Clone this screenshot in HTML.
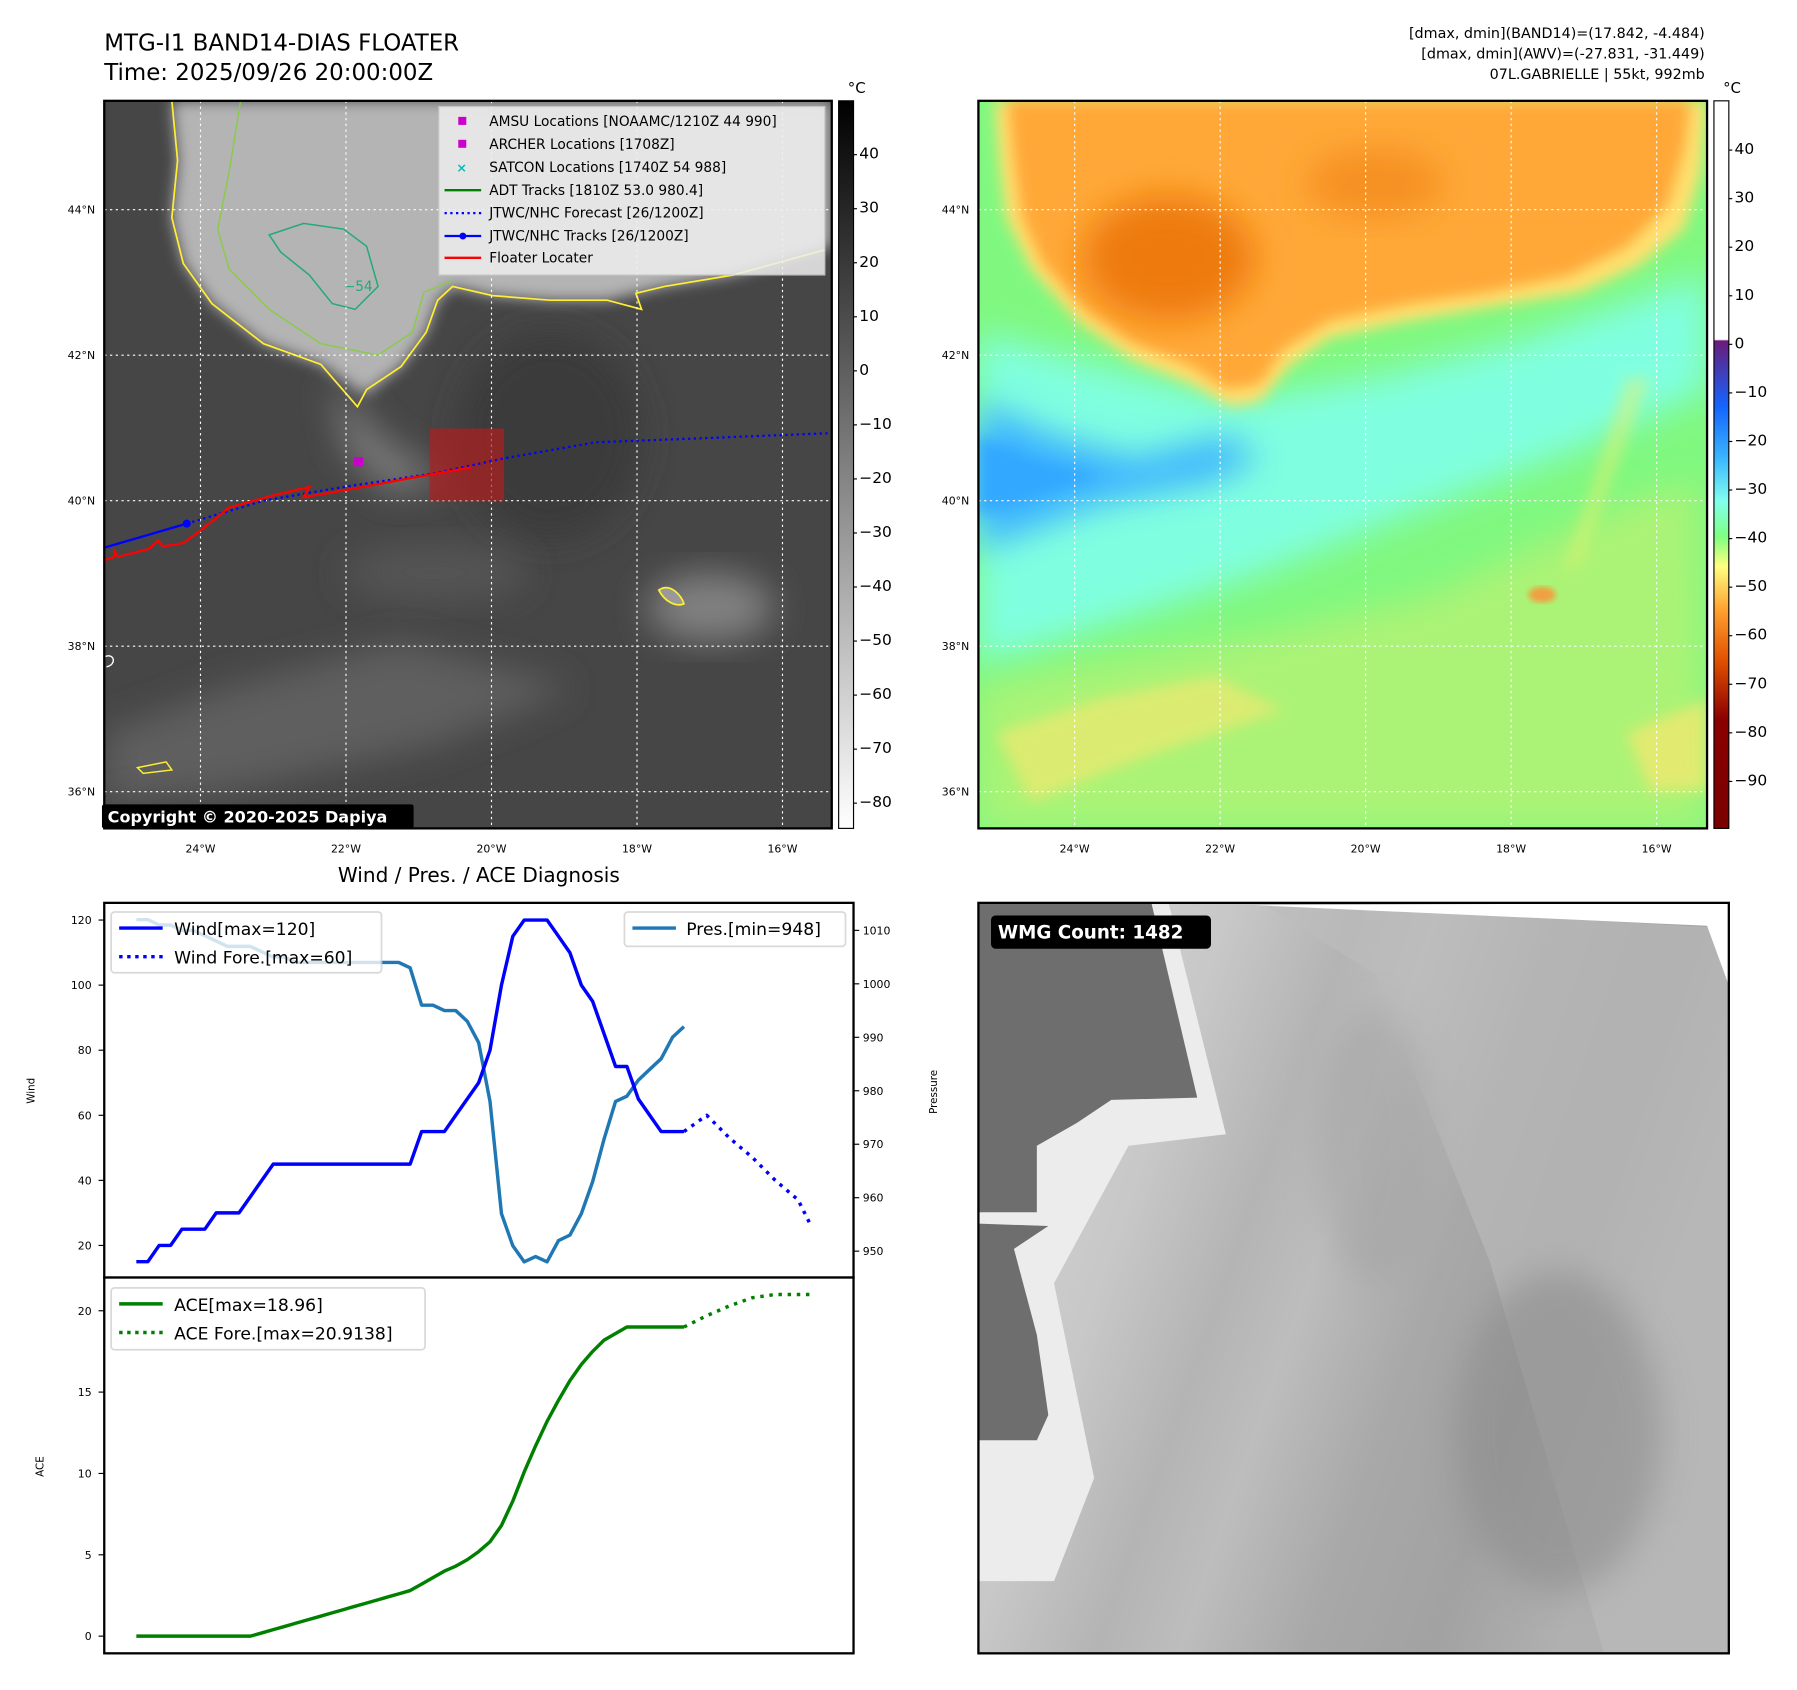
<!DOCTYPE html>
<html><head><meta charset="utf-8"><style>
html,body{margin:0;padding:0;background:#fff;}
svg{display:block;font-family:"DejaVu Sans","Liberation Sans",sans-serif;}
</style></head><body>
<svg id="fig" width="1797" height="1690" viewBox="0 0 1568.5 1475" preserveAspectRatio="none" xmlns="http://www.w3.org/2000/svg">
<defs>
<filter id="b6" x="-20%" y="-20%" width="140%" height="140%"><feGaussianBlur stdDeviation="6"/></filter>
<filter id="b15" x="-30%" y="-30%" width="160%" height="160%"><feGaussianBlur stdDeviation="15"/></filter>
<filter id="b3"><feGaussianBlur stdDeviation="2.5"/></filter>
<clipPath id="c1"><rect x="91" y="88" width="635" height="635"/></clipPath>
<clipPath id="c2"><rect x="854" y="88" width="636" height="635"/></clipPath>
<clipPath id="c3"><rect x="854" y="788" width="655" height="655"/></clipPath>
<linearGradient id="gbar" x1="0" y1="0" x2="0" y2="1"><stop offset="0" stop-color="#000"/><stop offset="1" stop-color="#fff"/></linearGradient>
<linearGradient id="cbar" x1="0" y1="0" x2="0" y2="1">
<stop offset="0" stop-color="#fff"/><stop offset="0.328" stop-color="#fff"/><stop offset="0.33" stop-color="#6a1b7a"/>
<stop offset="0.42" stop-color="#1464ff"/><stop offset="0.49" stop-color="#3ab4ff"/><stop offset="0.55" stop-color="#80ffee"/>
<stop offset="0.6" stop-color="#80ff80"/><stop offset="0.64" stop-color="#ffff80"/><stop offset="0.7" stop-color="#ffa030"/>
<stop offset="0.77" stop-color="#e05000"/><stop offset="0.85" stop-color="#8b0000"/><stop offset="1" stop-color="#7a0000"/></linearGradient>
<linearGradient id="wmg" x1="0" y1="0" x2="1" y2="0.35">
<stop offset="0" stop-color="#d6d6d6"/><stop offset="0.3" stop-color="#c8c8c8"/><stop offset="0.45" stop-color="#b4b4b4"/>
<stop offset="0.55" stop-color="#bdbdbd"/><stop offset="0.7" stop-color="#a8a8a8"/><stop offset="0.85" stop-color="#a2a2a2"/><stop offset="1" stop-color="#b0b0b0"/></linearGradient>
</defs>

<!-- titles -->
<text x="91" y="44" font-size="20">MTG-I1 BAND14-DIAS FLOATER</text>
<text x="91" y="70" font-size="20">Time: 2025/09/26 20:00:00Z</text>
<g font-size="12.5" text-anchor="end">
<text x="1488" y="33">[dmax, dmin](BAND14)=(17.842, -4.484)</text>
<text x="1488" y="51">[dmax, dmin](AWV)=(-27.831, -31.449)</text>
<text x="1488" y="69">07L.GABRIELLE | 55kt, 992mb</text>
</g>

<!-- MAP 1 -->
<g clip-path="url(#c1)">
<rect x="91" y="88" width="635" height="635" fill="#464646"/>
<ellipse cx="480" cy="380" rx="80" ry="90" fill="#3a3a3a" filter="url(#b15)"/>
<path d="M150,88 L155,140 L150,190 L160,230 L185,265 L230,300 L280,318 L318,345 L350,320 L372,290 L382,262 L395,250 L430,258 L480,262 L530,262 L580,250 L640,240 L726,215 L726,88 Z" fill="#b4b4b4" filter="url(#b6)"/>
<path d="M290,330 L330,380 L390,420 L340,430 L300,390 Z" fill="#7a7a7a" filter="url(#b15)"/>
<ellipse cx="620" cy="530" rx="55" ry="30" fill="#808080" filter="url(#b15)"/>
<ellipse cx="380" cy="500" rx="80" ry="25" fill="#555" filter="url(#b15)"/>
<path d="M91,640 L200,600 L350,560 L500,600 L380,650 L200,690 L91,700 Z" fill="#5e5e5e" filter="url(#b15)"/>
<path d="M150,88 L155,140 L150,190 L160,230 L185,265 L230,300 L280,318 L312,355 L320,340 L350,320 L372,290 L382,262 L395,250 L430,258 L480,262 L530,262 L560,270 L555,256 L580,250 L640,240 L720,218" fill="none" stroke="#ffee33" stroke-width="1.5"/>
<path d="M210,88 L200,150 L190,200 L200,235 L235,270 L280,300 L330,310 L360,290 L370,255 L395,245" fill="none" stroke="#88cc44" stroke-width="1.2"/>
<path d="M235,205 L265,195 L300,200 L320,215 L330,250 L310,270 L290,265 L270,240 L245,220 Z" fill="none" stroke="#22aa77" stroke-width="1.3"/>
<text x="300" y="254" font-size="12" fill="#22aa77">−54</text>
<path d="M575,515 C585,508 595,520 597,527 C590,530 580,525 575,515 Z" fill="#999" stroke="#ffee33" stroke-width="1.5"/>
<path d="M120,670 L145,665 L150,672 L125,675 Z" fill="none" stroke="#ffee33" stroke-width="1.3"/>
<path d="M92,573 C100,570 102,580 93,582" fill="none" stroke="#fff" stroke-width="1.2"/>
<g stroke="#fff" stroke-width="1" stroke-dasharray="2,3">
<line x1="175" y1="88" x2="175" y2="723"/><line x1="302" y1="88" x2="302" y2="723"/><line x1="429" y1="88" x2="429" y2="723"/><line x1="556" y1="88" x2="556" y2="723"/><line x1="683" y1="88" x2="683" y2="723"/>
<line x1="91" y1="183" x2="726" y2="183"/><line x1="91" y1="310" x2="726" y2="310"/><line x1="91" y1="437" x2="726" y2="437"/><line x1="91" y1="564" x2="726" y2="564"/><line x1="91" y1="691" x2="726" y2="691"/>
</g>
<rect x="375" y="374" width="65" height="63" fill="#b01e1e" opacity="0.7"/>
<polyline points="163,457 230,437 300,425 380,413 440,400 520,386 600,383 726,378" fill="none" stroke="#0000ff" stroke-width="2" stroke-dasharray="2,3"/>
<polyline points="91,478 163,457" fill="none" stroke="#0000ff" stroke-width="2"/>
<circle cx="163" cy="457" r="3.5" fill="#0000ff"/>
<polyline points="91,489 100,486 100,481 103,486 130,479 138,472 142,477 160,474 175,463 200,443 240,432 270,425 265,434 300,428 360,417 411,408" fill="none" stroke="#ff0000" stroke-width="2"/>
<rect x="309" y="399" width="8" height="8" fill="#cc00cc"/>
</g>
<rect x="91" y="88" width="635" height="635" fill="none" stroke="#000" stroke-width="2"/>
<g>
<rect x="383" y="93" width="337" height="147" fill="#eee" opacity="0.85" stroke="#ccc"/>
<rect x="400" y="102" width="7" height="7" fill="#cc00cc"/>
<rect x="400" y="122" width="7" height="7" fill="#cc00cc"/>
<text x="403" y="150" font-size="11" fill="#00bbbb" text-anchor="middle" font-weight="bold">×</text>
<line x1="388" y1="166" x2="420" y2="166" stroke="#008000" stroke-width="2"/>
<line x1="388" y1="186" x2="420" y2="186" stroke="#0000ff" stroke-width="2" stroke-dasharray="2,3"/>
<line x1="388" y1="206" x2="420" y2="206" stroke="#0000ff" stroke-width="2"/><circle cx="404" cy="206" r="3" fill="#0000ff"/>
<line x1="388" y1="225" x2="420" y2="225" stroke="#ff0000" stroke-width="2"/>
<g font-size="12">
<text x="427" y="110">AMSU Locations [NOAAMC/1210Z 44 990]</text>
<text x="427" y="130">ARCHER Locations [1708Z]</text>
<text x="427" y="150">SATCON Locations [1740Z 54 988]</text>
<text x="427" y="170">ADT Tracks [1810Z 53.0 980.4]</text>
<text x="427" y="190">JTWC/NHC Forecast [26/1200Z]</text>
<text x="427" y="210">JTWC/NHC Tracks [26/1200Z]</text>
<text x="427" y="229">Floater Locater</text>
</g></g>
<rect x="89" y="702" width="272" height="21" rx="2" fill="#000"/>
<text x="94" y="718" font-size="14" font-weight="bold" fill="#fff">Copyright © 2020-2025 Dapiya</text>
<rect x="732" y="88" width="13" height="635" fill="url(#gbar)" stroke="#000" stroke-width="1"/>
<text x="740" y="81" font-size="13">°C</text>
<g id="cb1ticks" font-size="13.5"></g>
<g id="m1labels" font-size="9.5"></g>

<!-- MAP 2 -->
<g clip-path="url(#c2)">
<rect x="854" y="88" width="636" height="635" fill="#80f880"/>
<path d="M854,290 L960,320 L1080,350 L1200,330 L1320,300 L1490,240 L1490,340 L1380,390 L1250,440 L1100,500 L980,540 L854,580 Z" fill="#80ffe0" filter="url(#b15)"/>
<path d="M854,350 L920,380 L990,400 L1070,380 L1100,400 L1060,420 L960,440 L854,480 Z" fill="#3cb4ff" filter="url(#b15)"/>
<path d="M854,380 L900,400 L960,415 L854,450 Z" fill="#30a8ff" filter="url(#b6)"/>
<path d="M854,600 L950,580 L1100,555 L1250,520 L1420,440 L1480,420 L1490,723 L854,723 Z" fill="#c8f070" filter="url(#b15)" opacity="0.6"/>
<path d="M870,640 L960,610 L1060,590 L1120,620 L1000,660 L900,700 Z" fill="#f0e870" filter="url(#b6)" opacity="0.7"/>
<path d="M1420,330 L1440,330 L1380,490 L1365,500 Z" fill="#e8f070" filter="url(#b6)" opacity="0.5"/>
<path d="M1420,640 L1490,610 L1490,690 L1440,690 Z" fill="#f0e870" filter="url(#b6)" opacity="0.8"/>
<path d="M868,88 L872,140 L878,190 L900,235 L940,280 L990,315 L1040,335 L1075,355 L1100,350 L1125,320 L1160,295 L1230,280 L1300,268 L1380,255 L1430,232 L1470,200 L1485,150 L1490,88 Z" fill="#ffe070" filter="url(#b6)"/>
<path d="M880,88 L885,140 L892,190 L910,230 L945,268 L990,300 L1040,320 L1070,340 L1100,335 L1120,305 L1160,280 L1230,265 L1300,255 L1370,240 L1420,215 L1455,180 L1470,130 L1475,88 Z" fill="#ffa838" filter="url(#b6)"/>
<ellipse cx="1020" cy="225" rx="75" ry="55" fill="#ee7a10" filter="url(#b15)"/>
<ellipse cx="1200" cy="160" rx="60" ry="30" fill="#f59020" filter="url(#b15)"/>
<ellipse cx="1346" cy="519" rx="12" ry="7" fill="#f0a040" filter="url(#b3)"/>
<g stroke="#fff" stroke-width="1" stroke-dasharray="2,3">
<line x1="938" y1="88" x2="938" y2="723"/><line x1="1065" y1="88" x2="1065" y2="723"/><line x1="1192" y1="88" x2="1192" y2="723"/><line x1="1319" y1="88" x2="1319" y2="723"/><line x1="1446" y1="88" x2="1446" y2="723"/>
<line x1="854" y1="183" x2="1490" y2="183"/><line x1="854" y1="310" x2="1490" y2="310"/><line x1="854" y1="437" x2="1490" y2="437"/><line x1="854" y1="564" x2="1490" y2="564"/><line x1="854" y1="691" x2="1490" y2="691"/>
</g>
</g>
<rect x="854" y="88" width="636" height="635" fill="none" stroke="#000" stroke-width="2"/>
<rect x="1496" y="88" width="13" height="635" fill="url(#cbar)" stroke="#000" stroke-width="1"/>
<text x="1504" y="81" font-size="13">°C</text>
<g id="cb2ticks" font-size="13.5"></g>
<g id="m2labels" font-size="9.5"></g>

<!-- WIND / PRES / ACE -->
<text x="418" y="770" font-size="17.5" text-anchor="middle">Wind / Pres. / ACE Diagnosis</text>
<rect x="91" y="788" width="654" height="327" fill="#fff" stroke="#000" stroke-width="2"/>
<rect x="91" y="1115" width="654" height="328" fill="#fff" stroke="#000" stroke-width="2"/>
<g id="chartg"></g>
<text transform="translate(30,952) rotate(-90)" font-size="9" text-anchor="middle">Wind</text>
<text transform="translate(818,953) rotate(-90)" font-size="9" text-anchor="middle">Pressure</text>
<text transform="translate(38,1280) rotate(-90)" font-size="9" text-anchor="middle">ACE</text>
<g>
<rect x="97" y="796" width="236" height="53" rx="3" fill="#fff" opacity="0.8" stroke="#d0d0d0" stroke-width="1.5"/>
<line x1="104" y1="810" x2="142" y2="810" stroke="#0000ff" stroke-width="3"/>
<line x1="104" y1="835" x2="142" y2="835" stroke="#0000ff" stroke-width="3" stroke-dasharray="3,4"/>
<text x="152" y="816" font-size="15">Wind[max=120]</text>
<text x="152" y="841" font-size="15">Wind Fore.[max=60]</text>
</g>
<g>
<rect x="545" y="796" width="193" height="30" rx="3" fill="#fff" opacity="0.8" stroke="#d0d0d0" stroke-width="1.5"/>
<line x1="552" y1="810" x2="590" y2="810" stroke="#1f77b4" stroke-width="3"/>
<text x="599" y="816" font-size="15">Pres.[min=948]</text>
</g>
<g>
<rect x="97" y="1124" width="274" height="54" rx="3" fill="#fff" opacity="0.8" stroke="#d0d0d0" stroke-width="1.5"/>
<line x1="104" y1="1138" x2="142" y2="1138" stroke="#008000" stroke-width="3"/>
<line x1="104" y1="1163" x2="142" y2="1163" stroke="#008000" stroke-width="3" stroke-dasharray="3,4"/>
<text x="152" y="1144" font-size="15">ACE[max=18.96]</text>
<text x="152" y="1169" font-size="15">ACE Fore.[max=20.9138]</text>
</g>

<!-- WMG -->
<g clip-path="url(#c3)">
<rect x="854" y="788" width="655" height="655" fill="url(#wmg)"/>
<path d="M1100,788 L1509,810 L1509,1443 L1400,1443 L1300,1100 L1200,850 Z" fill="#bcbcbc" opacity="0.6"/>
<ellipse cx="1360" cy="1250" rx="90" ry="140" fill="#8c8c8c" opacity="0.6" filter="url(#b15)"/>
<ellipse cx="1200" cy="1000" rx="50" ry="120" fill="#a0a0a0" opacity="0.5" filter="url(#b15)"/>
<path d="M854,788 L1020,788 L1070,990 L985,1000 L920,1120 L955,1290 L920,1380 L854,1380 Z" fill="#ececec"/>
<path d="M854,788 L1005,788 L1045,958 L970,960 L940,980 L905,1000 L905,1058 L854,1058 Z M854,1068 L915,1070 L885,1090 L905,1165 L915,1235 L905,1257 L854,1257 Z" fill="#6e6e6e"/>
<path d="M1095,790 L1490,808 L1509,860 L1509,788 Z" fill="#fff"/>
</g>
<rect x="854" y="788" width="655" height="655" fill="none" stroke="#000" stroke-width="2"/>
<rect x="865" y="799" width="192" height="29" rx="4" fill="#000"/>
<text x="871" y="819" font-size="16" font-weight="bold" fill="#fff">WMG Count: 1482</text>
</svg>
<script>
const windObs = [15,15,20,20,25,25,25,30,30,30,35,40,45,45,45,45,45,45,45,45,45,45,45,45,45,55,55,55,60,65,70,80,100,115,120,120,120,115,110,100,95,85,75,75,65,60,55,55,55];
const presObs = [1012,1012,1011,1011,1010,1010,1009,1008,1007,1007,1007,1006,1005,1005,1004,1004,1004,1004,1004,1004,1004,1004,1004,1004,1003,996,996,995,995,993,989,978,957,951,948,949,948,952,953,957,963,971,978,979,982,984,986,990,992];
const aceObs = [0,0,0,0,0,0,0,0,0,0,0,0.2,0.4,0.6,0.8,1.0,1.2,1.4,1.6,1.8,2.0,2.2,2.4,2.6,2.8,3.2,3.6,4.0,4.3,4.7,5.2,5.8,6.8,8.3,10.1,11.7,13.2,14.5,15.7,16.7,17.5,18.2,18.6,19.0,19.0,19.0,19.0,19.0,19.0];
const foreIdx = [48,50,52,54,56,58,59];
const windFore = [55,60,53,47,40,34,27];
const aceFore = [19.0,19.7,20.3,20.8,21.0,21.0,21.0];
const windTicks = [20,40,60,80,100,120];
const presTicks = [950,960,970,980,990,1000,1010];
const aceTicks = [0,5,10,15,20];
const cb1Ticks = [40,30,20,10,0,-10,-20,-30,-40,-50,-60,-70,-80];
const cb2Ticks = [40,30,20,10,0,-10,-20,-30,-40,-50,-60,-70,-80,-90];
const lonTicks = [-24,-22,-20,-18,-16];
const latTicks = [44,42,40,38,36];

const NS='http://www.w3.org/2000/svg';
const fig=document.getElementById('fig');
function xs(i){return 119+i*(597-119)/48;}
function yW(v){return 803+(120-v)*(1087-803)/100;}
function yP(v){return 812+(1010-v)*(1092-812)/60;}
function yA(v){return 1428-v*(1428-1144)/20;}
function mk(tag,attrs,parent){const e=document.createElementNS(NS,tag);for(const k in attrs)e.setAttribute(k,attrs[k]);(parent||fig).appendChild(e);return e;}
const cg=document.getElementById('chartg');
function line(idx,vals,fy,color,dash,name){
  const pts=vals.map((v,i)=>xs(idx?idx[i]:i).toFixed(1)+','+fy(v).toFixed(1)).join(' ');
  const p=mk('polyline',{points:pts,fill:'none',stroke:color,'stroke-width':3,'stroke-dasharray':dash||'none','stroke-linejoin':'round'},cg);
  
  
}
line(null,presObs,yP,'#1f77b4',null,'pressure-line');
line(null,windObs,yW,'#0000ff',null,'wind-line');
line(foreIdx,windFore,yW,'#0000ff','3,5','wind-forecast-line');
line(null,aceObs,yA,'#008000',null,'ace-line');
line(foreIdx,aceFore,yA,'#008000','3,5','ace-forecast-line');
function tick(x1,y,x2,lx,txt,anchor,size,par,name){
  mk('line',{x1:x1,y1:y,x2:x2,y2:y,stroke:'#000','stroke-width':1},par);
  const t=mk('text',{x:lx,y:y+3.5,'font-size':size,'text-anchor':anchor},par);t.textContent=txt;
  
  
}
windTicks.forEach(v=>tick(86,yW(v),91,80,v,'end',9.5,cg,'wind-tick-label'));
presTicks.forEach(v=>tick(745,yP(v),750,753,v,'start',9.5,cg,'pressure-tick-label'));
aceTicks.forEach(v=>tick(86,yA(v),91,80,v,'end',9.5,cg,'ace-tick-label'));
const cb1=document.getElementById('cb1ticks');
cb1Ticks.forEach(v=>tick(745,135+(40-v)*(701-135)/120,748,750,String(v).replace('-','−'),'start',13.5,cb1,'colorbar-ir-tick'));
const cb2=document.getElementById('cb2ticks');
cb2Ticks.forEach(v=>tick(1509,131+(40-v)*(682-131)/130,1512,1514,String(v).replace('-','−'),'start',13.5,cb2,'colorbar-wv-tick'));
[[document.getElementById('m1labels'),175,91],[document.getElementById('m2labels'),938,854]].forEach(([g,x0,left])=>{
  lonTicks.forEach((v,i)=>{const t=mk('text',{x:x0+(v+24)*63.5,y:744,'text-anchor':'middle','font-size':9.5},g);t.textContent=Math.abs(v)+'°W';
    
    });
  latTicks.forEach(v=>{const t=mk('text',{x:left-8,y:183+(44-v)*63.5+3.5,'text-anchor':'end','font-size':9.5},g);t.textContent=v+'°N';
    
    });
});
</script>
</body></html>
